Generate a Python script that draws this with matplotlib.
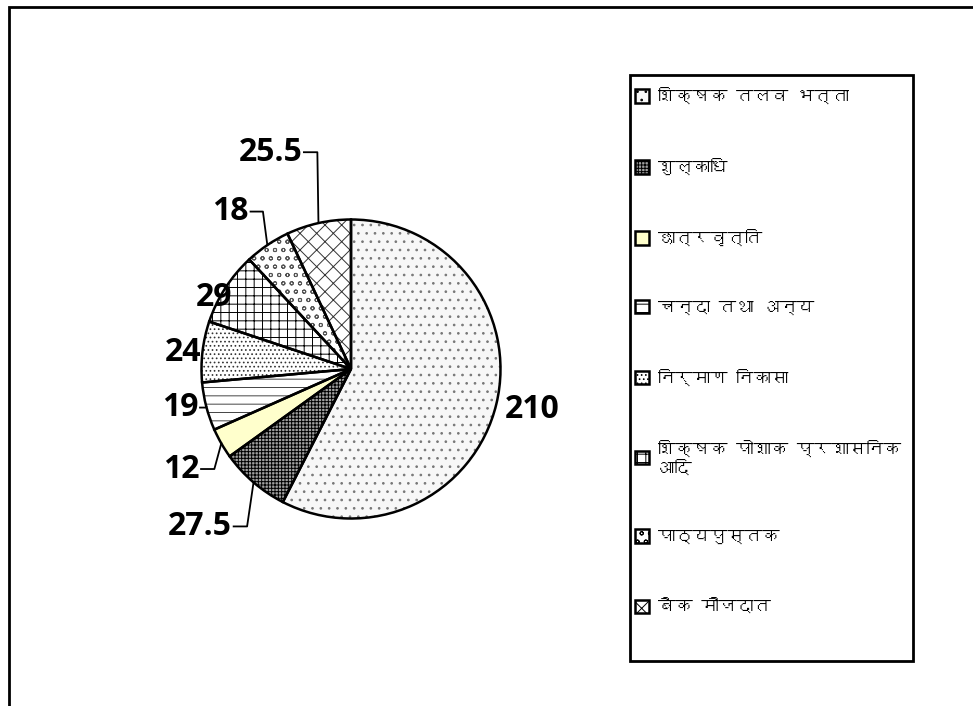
import matplotlib
matplotlib.use("Agg")
import numpy as np
from matplotlib import pyplot as plt
from matplotlib import font_manager
from matplotlib.ft2font import FT2Font
from matplotlib.patches import Patch, Rectangle

# data
categories = ["शिक्षक तलव भत्ता", "शुल्काधि", "छात्रवृत्ति", "चन्दा तथा अन्य",
              "निर्माण निकासा", "शिक्षक पोशाक प्रशासनिक\nआदि", "पाठ्यपुस्तक", "बैक मौजदात"]
values = [210, 27.5, 12, 19, 24, 29, 18, 25.5]
value_labels = ["210", "27.5", "12", "19", "24", "29", "18", "25.5"]

# styles
faces = ["#f7f7f7", "#a0a0a0", "#ffffcc", "#ffffff", "#ffffff", "#ffffff", "#ffffff", "#ffffff"]
hatch_cols = ["#777777", "#000000", "#ffffcc", "#444444", "#333333", "#000000", "#555555", "#333333"]
hatches = ["..", "+++++", "", "--", "....", "++", "oo", "xx"]

# find a font with Devanagari glyphs, if any
deva = None
for f in font_manager.fontManager.ttflist:
    try:
        if 0x0915 in FT2Font(f.fname).get_charmap():
            deva = f.name
            break
    except Exception:
        pass
legend_family = [deva, "DejaVu Sans"] if deva else ["DejaVu Sans"]

plt.rcParams["hatch.linewidth"] = 0.7

W, H = 973, 706
fig = plt.figure(figsize=(W / 100, H / 100), dpi=100)

# outer chart frame (cropped at right/bottom)
fig.add_artist(Rectangle((9 / W, -0.1), 2, 1 - 7 / H + 0.1, transform=fig.transFigure,
                         fill=False, lw=2, edgecolor="black", clip_on=False))

ax = fig.add_axes([200 / W, (H - 520) / H, 302 / W, 302 / H])
ax.set_facecolor("#c0c0c0")
for s in ax.spines.values():
    s.set_color("#8a8a8a")
    s.set_linewidth(2)

# hatched fill layer
wedges, _ = ax.pie(values, startangle=90, counterclock=False, radius=1,
                   colors=faces, wedgeprops=dict(linewidth=0))
for w, h, hc in zip(wedges, hatches, hatch_cols):
    w.set_hatch(h)
    w.set_edgecolor(hc)
# outlines
ax.pie(values, startangle=90, counterclock=False, radius=1,
       wedgeprops=dict(fill=False, edgecolor="black", linewidth=1.8))
ax.set_xlim(-1.01, 1.01)
ax.set_ylim(-1.01, 1.01)
ax.set_aspect("equal")
ax.set_xticks([])
ax.set_yticks([])

# data labels: (x, y, ha, stub end x or None), data coords
label_pos = [(1.03, -0.27, "left", None),
             (-0.795, -1.053, "right", -0.695),
             (-1.013, -0.669, "right", -0.914),
             (-1.02, -0.258, "right", -0.973),
             (-1.0, 0.113, "right", None),
             (-0.795, 0.477, "right", None),
             (-0.682, 1.053, "right", -0.589),
             (-0.325, 1.45, "right", -0.225)]

for w, lab, (x, y, ha, sx) in zip(wedges, value_labels, label_pos):
    ax.text(x, y, lab, ha=ha, va="center", fontsize=23, fontweight="bold",
            family="Open Sans", clip_on=False)
    if sx is not None:
        mid = np.deg2rad((w.theta1 + w.theta2) / 2)
        ex, ey = np.cos(mid), np.sin(mid)
        ax.plot([x + 0.01, sx, ex], [y, y, ey], color="black", lw=1.3, clip_on=False)

# legend box
fig.add_artist(Rectangle((630 / W, 1 - 661 / H), 283 / W, 586 / H, transform=fig.transFigure,
                         fill=False, lw=2, edgecolor="black"))
handles = [Patch(facecolor=fc, hatch=h, edgecolor="black", linewidth=1.8)
           for fc, h in zip(faces, hatches)]
fig.legend(handles, categories, loc="upper left", bbox_to_anchor=(635 / W, 1 - 87 / H),
           frameon=False, prop=dict(family=legend_family, size=12.5),
           labelspacing=3.1, handlelength=0.8, handleheight=0.8,
           handletextpad=0.5, borderaxespad=0, borderpad=0)

fig.savefig("out.png", dpi=100)
